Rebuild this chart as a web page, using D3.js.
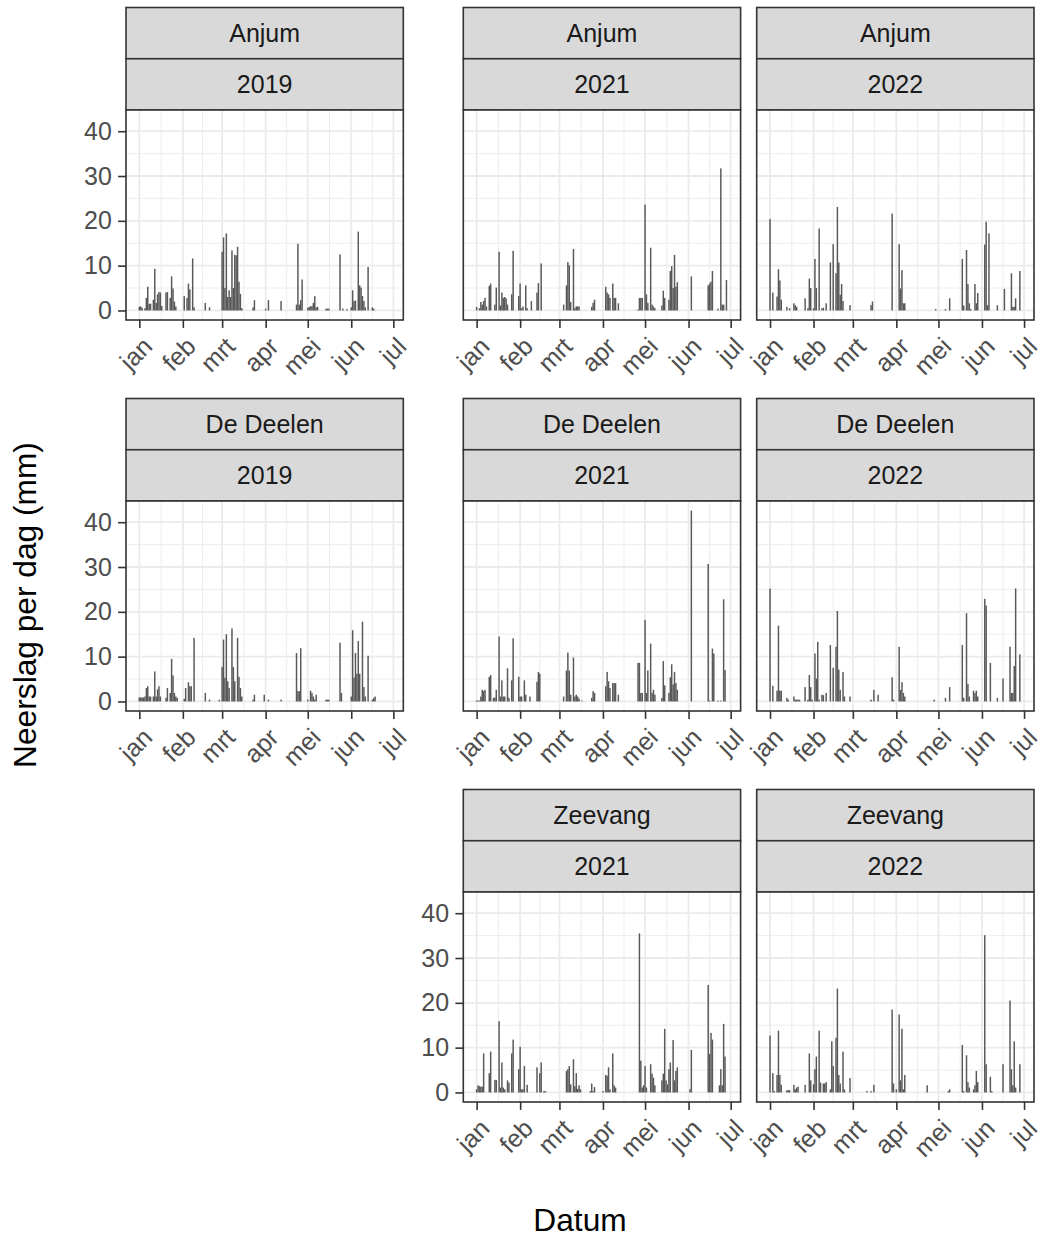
<!DOCTYPE html>
<html>
<head>
<meta charset="utf-8">
<script src="https://cdn.jsdelivr.net/npm/d3@7"></script>
<style>
  body { margin: 0; background: #ffffff; }
  svg { display: block; }
  text { font-family: "Liberation Sans", Arial, sans-serif; }
</style>
</head>
<body>
<svg id="chart" width="1045" height="1239"></svg>
<script>
// Daily precipitation per station and year: [day of year (0 = 1 jan), mm]
const anjum2019 = [
  [0,0.8],[1,0.9],[2,0.6],[4,0.5],[5,2.8],[6,5.3],[7,1.5],[8,1.5],[10,2.4],[11,9.3],[12,1.7],[13,3.6],[14,4.1],[15,4.0],[16,1.0],
  [19,4.0],[20,4.1],[22,2.8],[23,7.6],[24,4.9],[25,2.0],[26,0.9],
  [32,3.2],[34,2.8],[35,6.0],[36,4.7],[38,11.6],[39,0.7],
  [47,1.7],[50,0.7],
  [59,13.1],[60,16.3],[61,5.0],[62,17.2],[63,3.0],[64,4.5],[65,3.0],[66,13.4],[67,5.0],[68,12.4],[69,12.3],[70,14.2],[71,6.4],[72,3.7],[73,0.5],
  [81,0.7],[82,2.3],[90,0.4],[92,2.3],[101,2.1],
  [112,1.3],[113,14.9],[114,1.3],[115,2.3],[116,6.9],
  [120,0.6],[121,0.8],[122,0.9],[123,1.0],[124,1.7],[125,3.2],[126,0.7],[127,0.8],
  [133,0.4],[134,0.4],[135,0.4],
  [143,12.5],[145,0.4],[148,0.3],
  [151,0.7],[152,4.5],[153,2.1],[154,2.2],[156,17.6],[157,5.6],[158,5.1],[159,3.2],[160,2.1],[161,0.7],[163,9.7],[166,0.7],[167,0.4]
];
const anjum2021 = [
  [0,0.8],[2,0.5],[3,1.9],[4,1.3],[5,2.1],[6,2.8],[7,0.9],[9,5.5],[10,6.0],
  [13,1.3],[14,5.1],[16,13.1],[17,1.1],[18,4.0],[19,2.8],[20,3.0],[21,2.7],[22,1.3],[25,3.6],[26,13.3],
  [30,3.2],[31,6.0],[32,0.5],[33,0.9],[35,5.6],[36,0.5],[39,2.1],[43,4.0],[44,6.1],[46,10.5],
  [62,1.3],[64,5.6],[65,10.8],[66,10.1],[67,1.9],[69,13.7],[70,0.5],[71,0.9],[72,0.9],[73,0.9],
  [82,0.8],[83,1.7],[84,2.4],
  [92,5.3],[93,4.0],[94,3.6],[95,2.8],[97,6.0],[98,2.8],[99,2.8],[101,1.6],
  [115,0.2],[116,2.8],[117,2.8],[118,2.8],[120,23.6],[121,3.6],[122,1.7],[124,14.0],[125,1.3],[126,0.9],[127,0.5],
  [132,1.1],[133,4.4],[134,2.8],[137,2.4],[138,8.8],[139,9.9],[140,5.0],[141,12.4],[142,5.3],[143,6.3],
  [153,7.6],
  [165,5.6],[166,6.0],[167,6.4],[168,8.8],[172,0.4],[174,31.7],[175,1.3],[176,1.3],[178,6.8]
];
const anjum2022 = [
  [0,20.4],[2,4.0],[5,3.1],[6,9.2],[7,6.7],[8,2.4],[12,0.8],[14,0.5],[17,1.6],[18,1.2],[19,0.8],
  [25,2.7],[27,0.5],[28,7.1],[29,5.0],[31,0.5],[32,11.5],[33,5.0],[35,18.3],[37,0.5],[38,0.6],[40,1.6],
  [43,10.7],[45,14.8],[47,8.3],[48,23.1],[49,10.7],[50,3.5],[51,5.9],[52,2.1],[57,1.2],
  [72,1.2],[73,2.0],
  [87,21.6],[92,14.8],[93,4.9],[94,9.0],[95,1.6],[96,1.6],
  [118,0.3],[125,0.3],[128,2.7],
  [137,11.5],[138,1.1],[140,13.5],[141,5.9],[142,1.6],[143,0.3],[146,5.9],[147,1.6],[148,3.9],
  [153,14.7],[154,19.8],[155,1.2],[156,17.2],[162,1.2],[167,4.8],
  [172,8.3],[173,0.8],[174,0.8],[175,2.7],[178,8.8]
];
const deDeelen2019 = [
  [0,0.9],[1,0.9],[2,0.9],[3,0.9],[4,1.1],[5,3.0],[6,3.4],[7,1.1],[8,1.1],[10,1.1],[11,6.7],[12,1.1],[13,2.7],[14,3.4],[15,1.1],
  [19,0.8],[20,3.0],[22,1.9],[23,9.5],[24,5.8],[25,1.9],[26,1.1],[27,0.8],
  [32,0.6],[33,3.0],[35,4.3],[36,3.4],[37,3.4],[39,14.2],
  [47,1.9],[50,0.4],[57,0.4],
  [59,7.7],[60,13.8],[61,5.3],[62,15.0],[63,4.5],[64,3.0],[66,16.3],[67,7.7],[68,4.5],[70,14.2],[71,5.5],[72,3.0],[73,1.1],
  [81,0.4],[82,1.5],[89,1.5],[92,0.4],[101,0.4],
  [112,10.8],[113,2.3],[114,2.3],[115,11.9],
  [120,0.4],[122,2.4],[123,1.9],[124,1.1],[125,0.4],[126,1.5],
  [133,0.4],[134,0.4],[135,0.4],
  [143,13.1],[144,1.9],
  [151,1.1],[152,15.9],[153,5.3],[154,10.8],[155,6.2],[156,13.5],[157,6.2],[159,17.8],[160,3.2],[161,1.1],[163,10.2],
  [166,0.4],[167,0.8],[168,1.1]
];
const deDeelen2021 = [
  [0,0.2],[1,0.2],[2,0.2],[3,1.1],[4,2.6],[5,2.3],[6,2.6],[9,5.5],[10,5.9],[12,0.8],[13,0.9],[14,2.6],[16,14.5],[17,1.1],[18,4.7],[19,1.1],[20,1.1],[22,7.4],[23,0.8],[25,4.7],[26,14.1],
  [30,5.5],[31,1.1],[32,1.1],[34,4.7],[35,1.5],[38,1.1],[43,4.4],[44,6.6],[45,6.2],
  [62,1.1],[64,6.9],[65,10.9],[66,6.9],[67,1.5],[69,9.8],[70,1.1],[71,1.5],[72,1.1],[73,0.6],[75,0.2],
  [82,0.8],[83,2.3],[84,1.9],
  [92,3.4],[93,6.6],[94,4.5],[95,3.0],[97,4.1],[98,4.1],[99,4.1],[101,1.5],
  [115,8.6],[116,8.6],[117,1.9],[118,1.9],[120,18.2],[121,1.9],[122,6.9],[124,12.9],[125,1.9],[126,2.6],[127,1.5],
  [132,0.8],[133,9.0],[134,3.6],[137,1.9],[138,5.4],[139,8.3],[140,3.8],[141,6.6],[142,4.1],[143,2.6],
  [153,42.6],
  [165,30.7],[166,0.2],[168,11.8],[169,10.7],[172,0.2],[174,0.2],[176,22.8],[177,7.0]
];
const deDeelen2022 = [
  [0,25.2],[2,3.5],[5,2.4],[6,16.9],[7,2.4],[8,2.4],[12,0.8],[13,0.4],[17,1.1],[18,0.4],[19,0.4],[20,0.4],[21,0.4],
  [25,3.2],[27,0.4],[28,5.9],[29,3.2],[30,0.4],[32,10.7],[33,5.1],[34,13.3],[35,0.4],[37,1.5],[38,1.4],[40,1.9],
  [43,12.6],[45,7.5],[47,12.2],[48,20.2],[49,7.1],[50,2.6],[52,6.6],[53,1.1],[57,1.1],
  [72,0.4],[74,2.6],[77,1.5],
  [87,5.4],[88,0.4],[92,12.2],[93,2.6],[94,4.3],[95,1.9],[96,1.1],
  [117,0.4],[125,0.8],[128,3.2],
  [137,12.6],[138,0.8],[140,19.7],[141,3.9],[142,1.1],[145,2.4],[146,1.9],[147,2.4],[148,1.1],
  [153,22.9],[154,21.4],[157,8.6],[162,0.8],[166,5.1],
  [171,12.2],[172,1.9],[173,1.9],[174,7.9],[175,25.2],[178,10.5]
];
const zeevang2021 = [
  [0,0.7],[1,1.6],[2,1.4],[3,1.3],[4,1.3],[5,8.7],[9,4.3],[10,9.1],[13,2.8],[14,2.8],[16,15.9],[17,1.1],[18,6.7],[19,1.1],[20,0.7],[22,2.7],[23,2.2],[25,8.7],[26,11.8],
  [30,5.2],[31,10.2],[32,0.7],[33,0.7],[34,5.9],[36,1.7],
  [43,5.6],[45,4.3],[46,6.7],[48,0.3],[49,0.3],
  [64,4.8],[65,5.2],[66,5.9],[67,1.8],[69,7.4],[70,1.4],[71,4.3],[72,0.8],[73,1.6],[74,0.7],
  [81,0.3],[82,2.0],[83,0.3],[84,1.2],
  [90,0.3],[92,3.9],[93,3.7],[94,5.6],[95,0.7],[97,8.7],[98,1.6],[99,1.1],
  [116,35.5],[117,7.1],[118,1.1],[119,1.6],[120,5.9],[121,1.1],[124,6.3],[125,4.2],[126,3.3],[127,1.6],
  [132,2.7],[133,4.2],[134,14.2],[135,2.7],[136,1.8],[137,5.2],[138,6.7],[140,11.7],[141,2.7],[142,4.8],[143,5.6],
  [152,0.7],[153,9.5],
  [165,24.0],[166,8.6],[167,13.3],[168,11.8],[173,1.6],[174,5.2],[175,1.6],[176,15.3],[177,8.0]
];
const zeevang2022 = [
  [0,12.7],[2,4.3],[3,0.3],[5,3.9],[6,13.8],[7,3.9],[8,1.7],[12,0.5],[13,0.5],[14,0.5],[17,1.7],[18,0.7],[19,1.1],[20,1.3],[25,1.7],
  [28,8.7],[29,2.7],[31,1.8],[32,5.2],[33,8.0],[35,13.8],[36,2.2],[38,2.0],[39,2.0],[40,2.3],
  [43,0.7],[44,11.4],[45,5.9],[47,12.2],[48,23.2],[49,3.9],[50,2.0],[52,9.1],[53,0.7],[57,3.2],
  [69,0.3],[72,0.3],[74,1.7],
  [87,18.5],[88,2.0],[90,0.7],[92,17.4],[93,2.7],[94,14.2],[95,0.7],[96,3.9],
  [112,1.6],[127,0.3],[128,0.7],
  [137,10.6],[138,0.3],[140,8.3],[141,2.3],[142,1.1],[145,0.7],[146,1.6],[147,4.8],[148,2.3],
  [153,35.1],[154,6.3],[157,3.5],[158,0.3],[166,6.3],
  [171,20.5],[172,5.2],[173,1.6],[174,11.4],[175,1.1],[178,6.3]
];

const stations = ["Anjum", "De Deelen", "Zeevang"];
const years = [2019, 2021, 2022];
const monthLabels = ["jan", "feb", "mrt", "apr", "mei", "jun", "jul"];
const yBreaks = [0, 10, 20, 30, 40];
const yMinorBreaks = [5, 15, 25, 35];

const series = [
  { station: "Anjum", year: 2019, values: anjum2019 },
  { station: "Anjum", year: 2021, values: anjum2021 },
  { station: "Anjum", year: 2022, values: anjum2022 },
  { station: "De Deelen", year: 2019, values: deDeelen2019 },
  { station: "De Deelen", year: 2021, values: deDeelen2021 },
  { station: "De Deelen", year: 2022, values: deDeelen2022 },
  { station: "Zeevang", year: 2021, values: zeevang2021 },
  { station: "Zeevang", year: 2022, values: zeevang2022 }
];

// ---- layout (station = row, year = column) ----
const colLeft = [126, 463.3, 756.7];
const panelW = 277.3;
const rowTop = [7.5, 398.5, 789.5];
const stripH = 51.25;
const panelH = 210;

const C = {
  bar: "#595959",
  grid: "#EBEBEB",
  border: "#333333",
  strip: "#D9D9D9",
  stripText: "#1A1A1A",
  tickText: "#4D4D4D",
  title: "#000000"
};

const svg = d3.select("#chart");

// all years are mapped onto one common calendar year for the x axis
const refYear = 2019;
const jan1 = new Date(Date.UTC(refYear, 0, 1));
const jul1 = new Date(Date.UTC(refYear, 6, 1));
const dayDate = d => d3.utcDay.offset(jan1, d);

const x = d3.scaleUtc()
  .domain([d3.utcHour.offset(jan1, -9.5 * 24), d3.utcHour.offset(jul1, 7.1 * 24)])
  .range([0, panelW]);

const yMax = d3.max(series, s => d3.max(s.values, v => v[1]));
const y = d3.scaleLinear()
  .domain([-0.05 * yMax, yMax * 1.05])
  .range([panelH, 0]);

const xBreaks = d3.utcMonth.range(jan1, d3.utcDay.offset(jul1, 1));
const xMinorBreaks = d3.pairs(xBreaks).map(([a, b]) => new Date((+a + +b) / 2));
const barW = 1.05 * (x(dayDate(1)) - x(dayDate(0)));

series.forEach(s => {
  const r = stations.indexOf(s.station);
  const c = years.indexOf(s.year);
  const left = colLeft[c];
  const top = rowTop[r];
  const g = svg.append("g").attr("transform", `translate(${left},${top})`);

  // strips: station on top, year below
  [s.station, String(s.year)].forEach((label, i) => {
    g.append("rect")
      .attr("x", 0).attr("y", i * stripH)
      .attr("width", panelW).attr("height", stripH)
      .attr("fill", C.strip).attr("stroke", C.border).attr("stroke-width", 1.6);
    g.append("text")
      .attr("x", panelW / 2).attr("y", i * stripH + stripH / 2)
      .attr("dy", "0.35em")
      .attr("text-anchor", "middle")
      .attr("font-size", 25)
      .attr("fill", C.stripText)
      .text(label);
  });

  const p = g.append("g").attr("transform", `translate(0,${2 * stripH})`);
  p.append("rect").attr("width", panelW).attr("height", panelH).attr("fill", "#ffffff");

  // grid
  p.selectAll(".hmin").data(yMinorBreaks).join("line")
    .attr("x1", 0).attr("x2", panelW)
    .attr("y1", d => y(d)).attr("y2", d => y(d))
    .attr("stroke", C.grid).attr("stroke-width", 0.9);
  p.selectAll(".vmin").data(xMinorBreaks).join("line")
    .attr("y1", 0).attr("y2", panelH)
    .attr("x1", d => x(d)).attr("x2", d => x(d))
    .attr("stroke", C.grid).attr("stroke-width", 0.9);
  p.selectAll(".hmaj").data(yBreaks).join("line")
    .attr("x1", 0).attr("x2", panelW)
    .attr("y1", d => y(d)).attr("y2", d => y(d))
    .attr("stroke", C.grid).attr("stroke-width", 1.8);
  p.selectAll(".vmaj").data(xBreaks).join("line")
    .attr("y1", 0).attr("y2", panelH)
    .attr("x1", d => x(d)).attr("x2", d => x(d))
    .attr("stroke", C.grid).attr("stroke-width", 1.8);

  // daily bars
  p.selectAll(".bar").data(s.values).join("rect")
    .attr("x", d => x(dayDate(d[0])) - barW / 2)
    .attr("width", barW)
    .attr("y", d => y(d[1]))
    .attr("height", d => y(0) - y(d[1]))
    .attr("fill", C.bar);

  // panel border
  p.append("rect").attr("width", panelW).attr("height", panelH)
    .attr("fill", "none").attr("stroke", C.border).attr("stroke-width", 1.6);

  // x axis
  const xa = p.append("g").attr("transform", `translate(0,${panelH})`)
    .call(d3.axisBottom(x).tickValues(xBreaks)
      .tickFormat(d => monthLabels[d.getUTCMonth()])
      .tickSize(7.9));
  xa.select(".domain").remove();
  xa.selectAll(".tick line").attr("stroke", C.border).attr("stroke-width", 1.6);
  xa.selectAll(".tick text")
    .attr("x", null).attr("y", null).attr("dy", null)
    .attr("text-anchor", "end")
    .attr("transform", "translate(14,28) rotate(-45)")
    .attr("font-size", 25)
    .attr("font-family", '"Liberation Sans", Arial, sans-serif')
    .attr("fill", C.tickText);

  // y axis only on the first panel of each row
  const firstCol = d3.min(series.filter(o => o.station === s.station), o => years.indexOf(o.year));
  if (c === firstCol) {
    const ya = p.append("g")
      .call(d3.axisLeft(y).tickValues(yBreaks).tickSize(7.9).tickPadding(6.3));
    ya.select(".domain").remove();
    ya.selectAll(".tick line").attr("stroke", C.border).attr("stroke-width", 1.6);
    ya.selectAll(".tick text")
      .attr("font-size", 25)
      .attr("font-family", '"Liberation Sans", Arial, sans-serif')
      .attr("fill", C.tickText);
  }
});

// axis titles
svg.append("text")
  .attr("x", (colLeft[0] + colLeft[2] + panelW) / 2)
  .attr("y", 1231)
  .attr("text-anchor", "middle")
  .attr("font-size", 31.7)
  .attr("fill", C.title)
  .text("Datum");

svg.append("text")
  .attr("transform", "translate(36,605) rotate(-90)")
  .attr("text-anchor", "middle")
  .attr("font-size", 31.7)
  .attr("fill", C.title)
  .text("Neerslag per dag (mm)");
</script>
</body>
</html>
